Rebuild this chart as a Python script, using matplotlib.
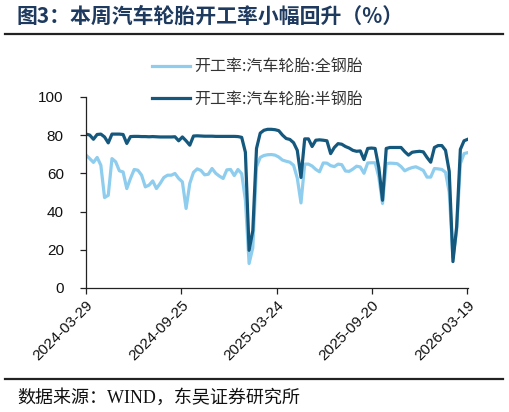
import numpy as np
import pandas as pd
import matplotlib
matplotlib.use("Agg")
import matplotlib.pyplot as plt
import matplotlib.dates as mdates
from matplotlib.lines import Line2D

# weekly dates
dates = pd.date_range("2024-03-29", periods=104, freq="7D")

# 开工率:汽车轮胎:全钢胎
all_steel = [
    69.5, 67.7, 65.7, 68.3, 64.2, 47.3, 48.5, 67.7, 66.0, 61.3,
    60.7, 52.0, 57.3, 62.0, 61.6, 59.0, 52.9, 53.8, 56.0, 52.0,
    54.7, 57.8, 59.0, 59.0, 59.9, 57.3, 55.5, 41.6, 54.7, 60.5,
    62.3, 61.5, 59.2, 59.5, 62.5, 60.0, 58.5, 57.3, 61.8, 62.0,
    58.8, 62.0, 59.8, 46.0, 12.8, 21.0, 63.4, 68.3, 69.3, 69.7,
    69.8, 69.5, 68.5, 66.9, 66.3, 65.8, 64.2, 57.5, 44.5, 64.8,
    64.8, 63.8, 62.0, 60.8, 65.4, 65.3, 64.0, 63.5, 64.8, 64.5,
    61.2, 61.0, 62.2, 63.7, 63.3, 60.0, 65.4, 65.5, 65.5, 58.0,
    44.2, 65.1, 65.3, 65.2, 65.0, 63.5, 61.3, 62.3, 63.0, 63.4,
    62.5, 61.5, 58.0, 58.0, 62.5, 62.3, 62.0, 60.5, 50.0, 16.0,
    30.0, 65.0, 70.3, 70.8,
]

# 开工率:汽车轮胎:半钢胎
semi_steel = [
    80.5, 80.0, 77.8, 80.3, 80.5, 79.0, 75.9, 80.5, 80.5, 80.5,
    80.3, 75.6, 79.2, 79.3, 79.3, 79.2, 79.2, 79.1, 79.2, 79.1,
    79.0, 79.0, 79.0, 79.0, 79.1, 77.0, 79.0, 77.0, 74.7, 79.5,
    79.6, 79.5, 79.4, 79.4, 79.4, 79.3, 79.3, 79.3, 79.3, 79.3,
    79.3, 79.2, 78.8, 71.0, 19.7, 30.0, 73.0, 81.0, 82.5, 83.0,
    83.0, 82.8, 82.3, 80.0, 78.2, 77.7, 76.0, 72.0, 57.8, 78.0,
    78.0, 74.0, 77.3, 77.5, 77.3, 77.0, 70.3, 73.5, 75.5, 75.2,
    74.0, 73.2, 72.0, 71.5, 71.7, 67.2, 73.0, 73.2, 73.0, 63.0,
    45.9, 73.0, 73.5, 73.5, 73.5, 73.5, 71.3, 69.5, 71.0, 71.3,
    71.5, 71.2, 68.3, 65.8, 73.5, 74.5, 74.5, 72.0, 61.0, 13.8,
    32.0, 72.5, 77.0, 77.8,
]

labels = ["开工率:汽车轮胎:全钢胎", "开工率:汽车轮胎:半钢胎"]
colors = ["#8ECDEE", "#15587D"]
tick_dates = pd.date_range("2024-03-29", periods=5, freq="180D")
y_ticks = [0, 20, 40, 60, 80, 100]

cjk = ["Noto Sans CJK SC", "DejaVu Sans"]

fig = plt.figure(figsize=(5.09, 4.12), dpi=100)
ax = fig.add_axes([0.169, 0.301, 0.750, 0.464])

ax.plot(dates, all_steel, color=colors[0], lw=2.3, label=labels[0])
ax.plot(dates, semi_steel, color=colors[1], lw=2.3, label=labels[1])

ax.set_xlim(dates[0], dates[-1])
ax.set_ylim(0, 100)
ax.set_yticks(y_ticks)
ax.set_xticks(tick_dates)
ax.xaxis.set_major_formatter(mdates.DateFormatter("%Y-%m-%d"))

for s in ["top", "right"]:
    ax.spines[s].set_visible(False)
for s in ["left", "bottom"]:
    ax.spines[s].set_color("#222222")
    ax.spines[s].set_linewidth(0.9)

ax.tick_params(axis="both", direction="out", length=4, width=0.9,
               color="#222222", labelsize=11, labelcolor="#111111")
ax.tick_params(axis="y", pad=12)
for lab in ax.get_yticklabels() + ax.get_xticklabels():
    lab.set_family("Liberation Sans")
for lab in ax.get_xticklabels():
    lab.set_rotation(45)
    lab.set_ha("right")
    lab.set_va("top")
    lab.set_rotation_mode("anchor")

leg = fig.legend(loc="center", bbox_to_anchor=(0.505, 0.799), frameon=False,
                 handlelength=2.4, handletextpad=0.25, labelspacing=0.95,
                 prop={"family": cjk, "size": 11.5})
for t in leg.get_texts():
    t.set_color("#333333")

# title and rules
fig.text(17 / 509, 1 - 16 / 412, "图3：本周汽车轮胎开工率小幅回升（%）",
         family=cjk, fontsize=15, fontweight="bold", color="#1E3A5F",
         ha="left", va="center")
fig.add_artist(Line2D([5 / 509, 503 / 509], [1 - 34 / 412, 1 - 34 / 412],
                      color="#222222", lw=1.6))
fig.add_artist(Line2D([5 / 509, 503 / 509], [1 - 379 / 412, 1 - 379 / 412],
                      color="#222222", lw=1.6))
fig.text(17 / 509, 1 - 398 / 412, "数据来源：WIND，东吴证券研究所",
         family=["Liberation Serif", "Noto Sans CJK SC"], fontsize=13,
         color="#111111", ha="left", va="center")

fig.savefig("out.png", dpi=100)
